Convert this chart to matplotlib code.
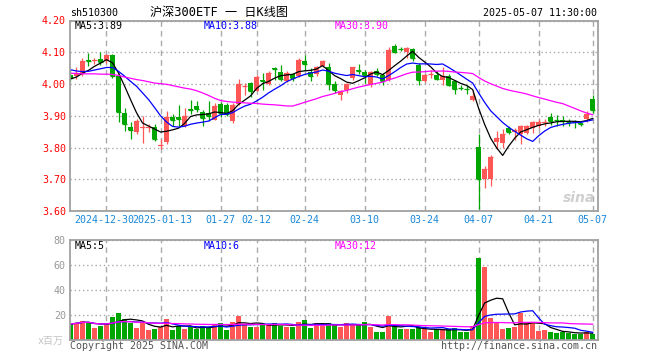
import numpy as np
import pandas as pd
import matplotlib
matplotlib.use("Agg")
import matplotlib.pyplot as plt
import matplotlib.transforms as mtransforms

# trading days shown on the chart
trade_days = {
    "2024-12": [20, 23, 24, 25, 26, 27, 30, 31],
    "2025-01": [2, 3, 6, 7, 8, 9, 10, 13, 14, 15, 16, 17, 20, 21, 22, 23, 24, 27],
    "2025-02": [5, 6, 7, 10, 11, 12, 13, 14, 17, 18, 19, 20, 21, 24, 25, 26, 27, 28],
    "2025-03": [3, 4, 5, 6, 7, 10, 11, 12, 13, 14, 17, 18, 19, 20, 21, 24, 25, 26, 27, 28, 31],
    "2025-04": [1, 2, 3, 7, 8, 9, 10, 11, 14, 15, 16, 17, 18, 21, 22, 23, 24, 25, 28, 29, 30],
    "2025-05": [6, 7],
}

opens = [4.027, 4.024, 4.030, 4.075, 4.074, 4.080, 4.071, 4.090, 4.024, 3.909,
         3.866, 3.849, 3.862, 3.861, 3.864, 3.806, 3.818, 3.897, 3.897, 3.868,
         3.920, 3.930, 3.912, 3.908, 3.888, 3.938, 3.935, 3.882, 3.938, 3.993,
         4.002, 3.979, 4.012, 4.000, 4.049, 4.038, 4.008, 4.031, 4.024, 4.073,
         4.038, 4.031, 4.058, 4.052, 4.000, 3.965, 3.982, 4.019, 4.043, 4.038,
         3.996, 4.042, 4.027, 4.014, 4.121, 4.111, 4.102, 4.110, 4.060, 4.008,
         4.031, 4.029, 4.013, 4.026, 4.008, 3.988, 3.985, 3.951, 3.803, 3.701,
         3.701, 3.818, 3.815, 3.860, 3.848, 3.844, 3.846, 3.861, 3.867, 3.878,
         3.896, 3.888, 3.886, 3.883, 3.881, 3.876, 3.890, 3.952]
highs = [4.047, 4.053, 4.081, 4.099, 4.082, 4.100, 4.095, 4.095, 4.035, 3.925,
         3.880, 3.890, 3.900, 3.873, 3.875, 3.826, 3.915, 3.907, 3.935, 3.925,
         3.950, 3.946, 3.918, 3.946, 3.940, 3.944, 3.940, 3.940, 4.016, 4.003,
         4.005, 4.029, 4.035, 4.040, 4.055, 4.060, 4.040, 4.034, 4.081, 4.092,
         4.050, 4.058, 4.076, 4.066, 4.008, 3.982, 4.003, 4.055, 4.062, 4.045,
         4.042, 4.050, 4.034, 4.118, 4.125, 4.118, 4.118, 4.112, 4.066, 4.032,
         4.045, 4.040, 4.055, 4.030, 4.013, 3.998, 3.998, 3.980, 3.842, 3.743,
         3.776, 3.852, 3.857, 3.867, 3.861, 3.872, 3.872, 3.882, 3.890, 3.890,
         3.908, 3.903, 3.900, 3.890, 3.888, 3.879, 3.914, 3.966]
lows = [4.005, 4.016, 4.025, 4.057, 4.064, 4.060, 4.066, 4.019, 3.880, 3.852,
        3.828, 3.842, 3.815, 3.850, 3.820, 3.795, 3.810, 3.868, 3.867, 3.866,
        3.905, 3.912, 3.869, 3.885, 3.886, 3.895, 3.900, 3.876, 3.935, 3.965,
        3.960, 3.977, 3.982, 3.998, 4.013, 4.008, 4.006, 4.008, 4.021, 4.045,
        4.008, 4.024, 4.055, 3.982, 3.972, 3.951, 3.972, 4.013, 4.031, 4.003,
        3.990, 4.024, 3.998, 4.010, 4.097, 4.103, 4.081, 4.071, 3.998, 4.005,
        4.020, 4.013, 3.998, 3.995, 3.970, 3.980, 3.970, 3.946, 3.605, 3.672,
        3.678, 3.795, 3.800, 3.841, 3.825, 3.810, 3.841, 3.846, 3.861, 3.869,
        3.872, 3.869, 3.869, 3.867, 3.861, 3.867, 3.879, 3.908]
closes = [4.019, 4.036, 4.074, 4.073, 4.076, 4.070, 4.090, 4.026, 3.911, 3.873,
          3.855, 3.883, 3.864, 3.863, 3.826, 3.808, 3.895, 3.886, 3.889, 3.900,
          3.918, 3.920, 3.893, 3.898, 3.930, 3.910, 3.905, 3.934, 4.000, 3.995,
          3.979, 4.021, 4.010, 4.035, 4.047, 4.017, 4.034, 4.019, 4.076, 4.062,
          4.024, 4.055, 4.071, 4.000, 3.982, 3.977, 4.000, 4.052, 4.041, 4.027,
          4.038, 4.031, 4.010, 4.107, 4.102, 4.109, 4.112, 4.083, 4.014, 4.029,
          4.033, 4.016, 4.026, 3.998, 3.984, 3.986, 3.983, 3.961, 3.701, 3.732,
          3.769, 3.831, 3.842, 3.848, 3.856, 3.867, 3.867, 3.879, 3.879, 3.880,
          3.882, 3.886, 3.884, 3.881, 3.879, 3.875, 3.906, 3.917]
# volume, millions
volumes = [12.8, 13.9, 15.5, 14.4, 9.6, 11.2, 12.8, 18.4, 21.6, 17.1,
           13.3, 9.9, 14.4, 8.3, 9.1, 10.1, 16.8, 8.3, 11.5, 9.1,
           10.7, 8.5, 11.2, 9.6, 12.8, 13.6, 8.3, 14.7, 19.5, 12.5,
           10.7, 10.7, 12.8, 12.0, 13.6, 11.2, 10.7, 10.7, 14.7, 16.0,
           9.9, 13.6, 11.2, 13.6, 12.0, 10.7, 13.3, 12.0, 12.0, 14.4,
           10.7, 6.4, 6.4, 19.5, 11.2, 8.8, 9.1, 9.1, 10.1, 8.5,
           6.4, 8.5, 8.0, 8.5, 9.6, 6.4, 6.4, 11.2, 65.6, 58.4,
           17.6, 14.4, 8.8, 9.6, 10.4, 21.6, 13.3, 14.4, 7.5, 8.3,
           6.4, 5.6, 6.7, 5.4, 5.1, 5.0, 6.2, 5.2]

# moving-average values at the left edge (their windows reach before the chart)
ma5_head = [4.016, 4.022, 4.034, 4.043]
ma10_head = [4.045, 4.041, 4.039, 4.040, 4.044, 4.048, 4.052, 4.052, 4.040]
ma30_head = [4.034, 4.033, 4.032, 4.032, 4.032, 4.031, 4.031, 4.030, 4.027, 4.022,
             4.018, 4.014, 4.011, 4.007, 4.003, 4.001, 3.999, 3.995, 3.991, 3.987,
             3.984, 3.979, 3.972, 3.964, 3.955, 3.948, 3.945, 3.943, 3.942]

tick_dates = ["2024-12-30", "2025-01-13", "2025-01-27", "2025-02-12", "2025-02-24",
              "2025-03-10", "2025-03-24", "2025-04-07", "2025-04-21", "2025-05-07"]
tick_labels = ["2024-12-30", "2025-01-13", "01-27", "02-12", "02-24",
               "03-10", "03-24", "04-07", "04-21", "05-07"]

RED = "#ff5656"
GREEN = "#00a600"
GRID = "#aaaaaa"
MONO = "DejaVu Sans Mono"
FS = 7.2

dates = [f"{m}-{d:02d}" for m, days in trade_days.items() for d in days]
x = np.arange(len(dates))
o = np.array(opens); h = np.array(highs); l = np.array(lows); c = np.array(closes)
v = np.array(volumes)

cs = pd.Series(c)
ma5 = cs.rolling(5).mean().values
ma5[:len(ma5_head)] = ma5_head
ma10 = cs.rolling(10).mean().values
ma10[:len(ma10_head)] = ma10_head
ma30 = cs.rolling(30).mean().values
ma30[:len(ma30_head)] = ma30_head
vs = pd.Series(v)
vma5 = vs.rolling(5, min_periods=1).mean().values
vma10 = vs.rolling(10, min_periods=1).mean().values
vma30 = vs.rolling(30, min_periods=1).mean().values

up = c >= o
col = np.where(up, RED, GREEN)
tick_x = [dates.index(d) for d in tick_dates]

W, H = 660, 360
fig = plt.figure(figsize=(W / 100, H / 100), dpi=100)
fig.patch.set_facecolor("white")


def rect(left, top, right, bottom):
    return [left / W, 1 - bottom / H, (right - left) / W, (bottom - top) / H]


def ftext(px, py, s, **kw):
    kw.setdefault("fontsize", FS)
    kw.setdefault("family", MONO)
    fig.text(px / W, 1 - py / H, s, **kw)


ax = fig.add_axes(rect(70, 20.5, 597.7, 211))
axv = fig.add_axes(rect(70, 240, 597.7, 340))

for a in (ax, axv):
    a.set_xlim(-0.08, len(x) - 1 + 0.83)
    a.set_axisbelow(True)
    for s in a.spines.values():
        s.set_color("#a0a0a0")
        s.set_linewidth(1.3)
    a.set_xticks(tick_x)
    a.xaxis.grid(True, color=GRID, ls=(0, (4, 3)), lw=1.0)
    a.yaxis.grid(True, color=GRID, ls=(0, (1, 2)), lw=1.0)
    a.tick_params(length=0)

# candles
ax.vlines(x, l, h, colors=col, lw=0.9)
body_lo = np.minimum(o, c)
body_h = np.abs(c - o)
ax.bar(x, body_h, 0.8, bottom=body_lo, color=col, lw=0)
ax.hlines(c, x - 0.4, x + 0.4, colors=col, lw=0.9)
ax.plot(x, ma5, color="black", lw=0.9)
ax.plot(x, ma10, color="#0000ff", lw=0.9)
ax.plot(x, ma30, color="#ff00ff", lw=0.9)
ax.set_ylim(3.60, 4.20)
yt = [3.60, 3.70, 3.80, 3.90, 4.00, 4.10, 4.20]
ax.set_yticks(yt)
ax.set_yticklabels([f"{t:.2f}" for t in yt], family=MONO, fontsize=FS, color="red")
xlabels = ax.set_xticklabels(tick_labels, family=MONO, fontsize=FS, color="#1a88d8")
ax.tick_params(axis="y", pad=3)
ax.tick_params(axis="x", pad=3)
# the first two date labels sit close together; nudge them apart slightly
xlabels[0].set_transform(xlabels[0].get_transform()
                         + mtransforms.ScaledTranslation(-2.5 / 100, 0, fig.dpi_scale_trans))
xlabels[1].set_transform(xlabels[1].get_transform()
                         + mtransforms.ScaledTranslation(1.5 / 100, 0, fig.dpi_scale_trans))

# volume
axv.bar(x, v, 0.82, color=col, lw=0)
axv.plot(x, vma5, color="black", lw=0.9)
axv.plot(x, vma10, color="#0000ff", lw=0.9)
axv.plot(x, vma30, color="#ff00ff", lw=0.9)
axv.set_ylim(0, 80)
axv.set_yticks([0, 20, 40, 60, 80])
axv.set_yticklabels(["", "20", "40", "60", "80"], family=MONO, fontsize=FS, color="#999999")
axv.set_xticklabels([])
axv.tick_params(axis="y", pad=3)

# header texts
ftext(70, 13, "sh510300", va="center")
ftext(150, 12, "沪深300ETF 一 日K线图", va="center", fontsize=8.7,
      family=[MONO, "Noto Sans CJK SC"])
ftext(597, 13, "2025-05-07 11:30:00", va="center", ha="right")

# MA legends
ftext(75, 26, "MA5:3.89", va="center", color="black")
ftext(204, 26, "MA10:3.88", va="center", color="#0000ff")
ftext(335, 26, "MA30:3.90", va="center", color="#ff00ff")
ftext(75, 246, "MA5:5", va="center", color="black")
ftext(204, 246, "MA10:6", va="center", color="#0000ff")
ftext(335, 246, "MA30:12", va="center", color="#ff00ff")

# footer texts
ftext(38, 341, "x百万", va="center", color="#c4c4c4",
      family=[MONO, "Noto Sans CJK SC"])
ftext(70, 346, "Copyright 2025 SINA.COM", va="center", color="#555555")
ftext(597, 346, "http://finance.sina.com.cn", va="center", ha="right", color="#555555")

# faint sina watermark
ftext(579, 198, "sina", va="center", ha="center", fontsize=10, color="#cfcfcf",
      family="DejaVu Sans", weight="bold", style="italic")

fig.savefig("out.png", dpi=100, facecolor="white")
